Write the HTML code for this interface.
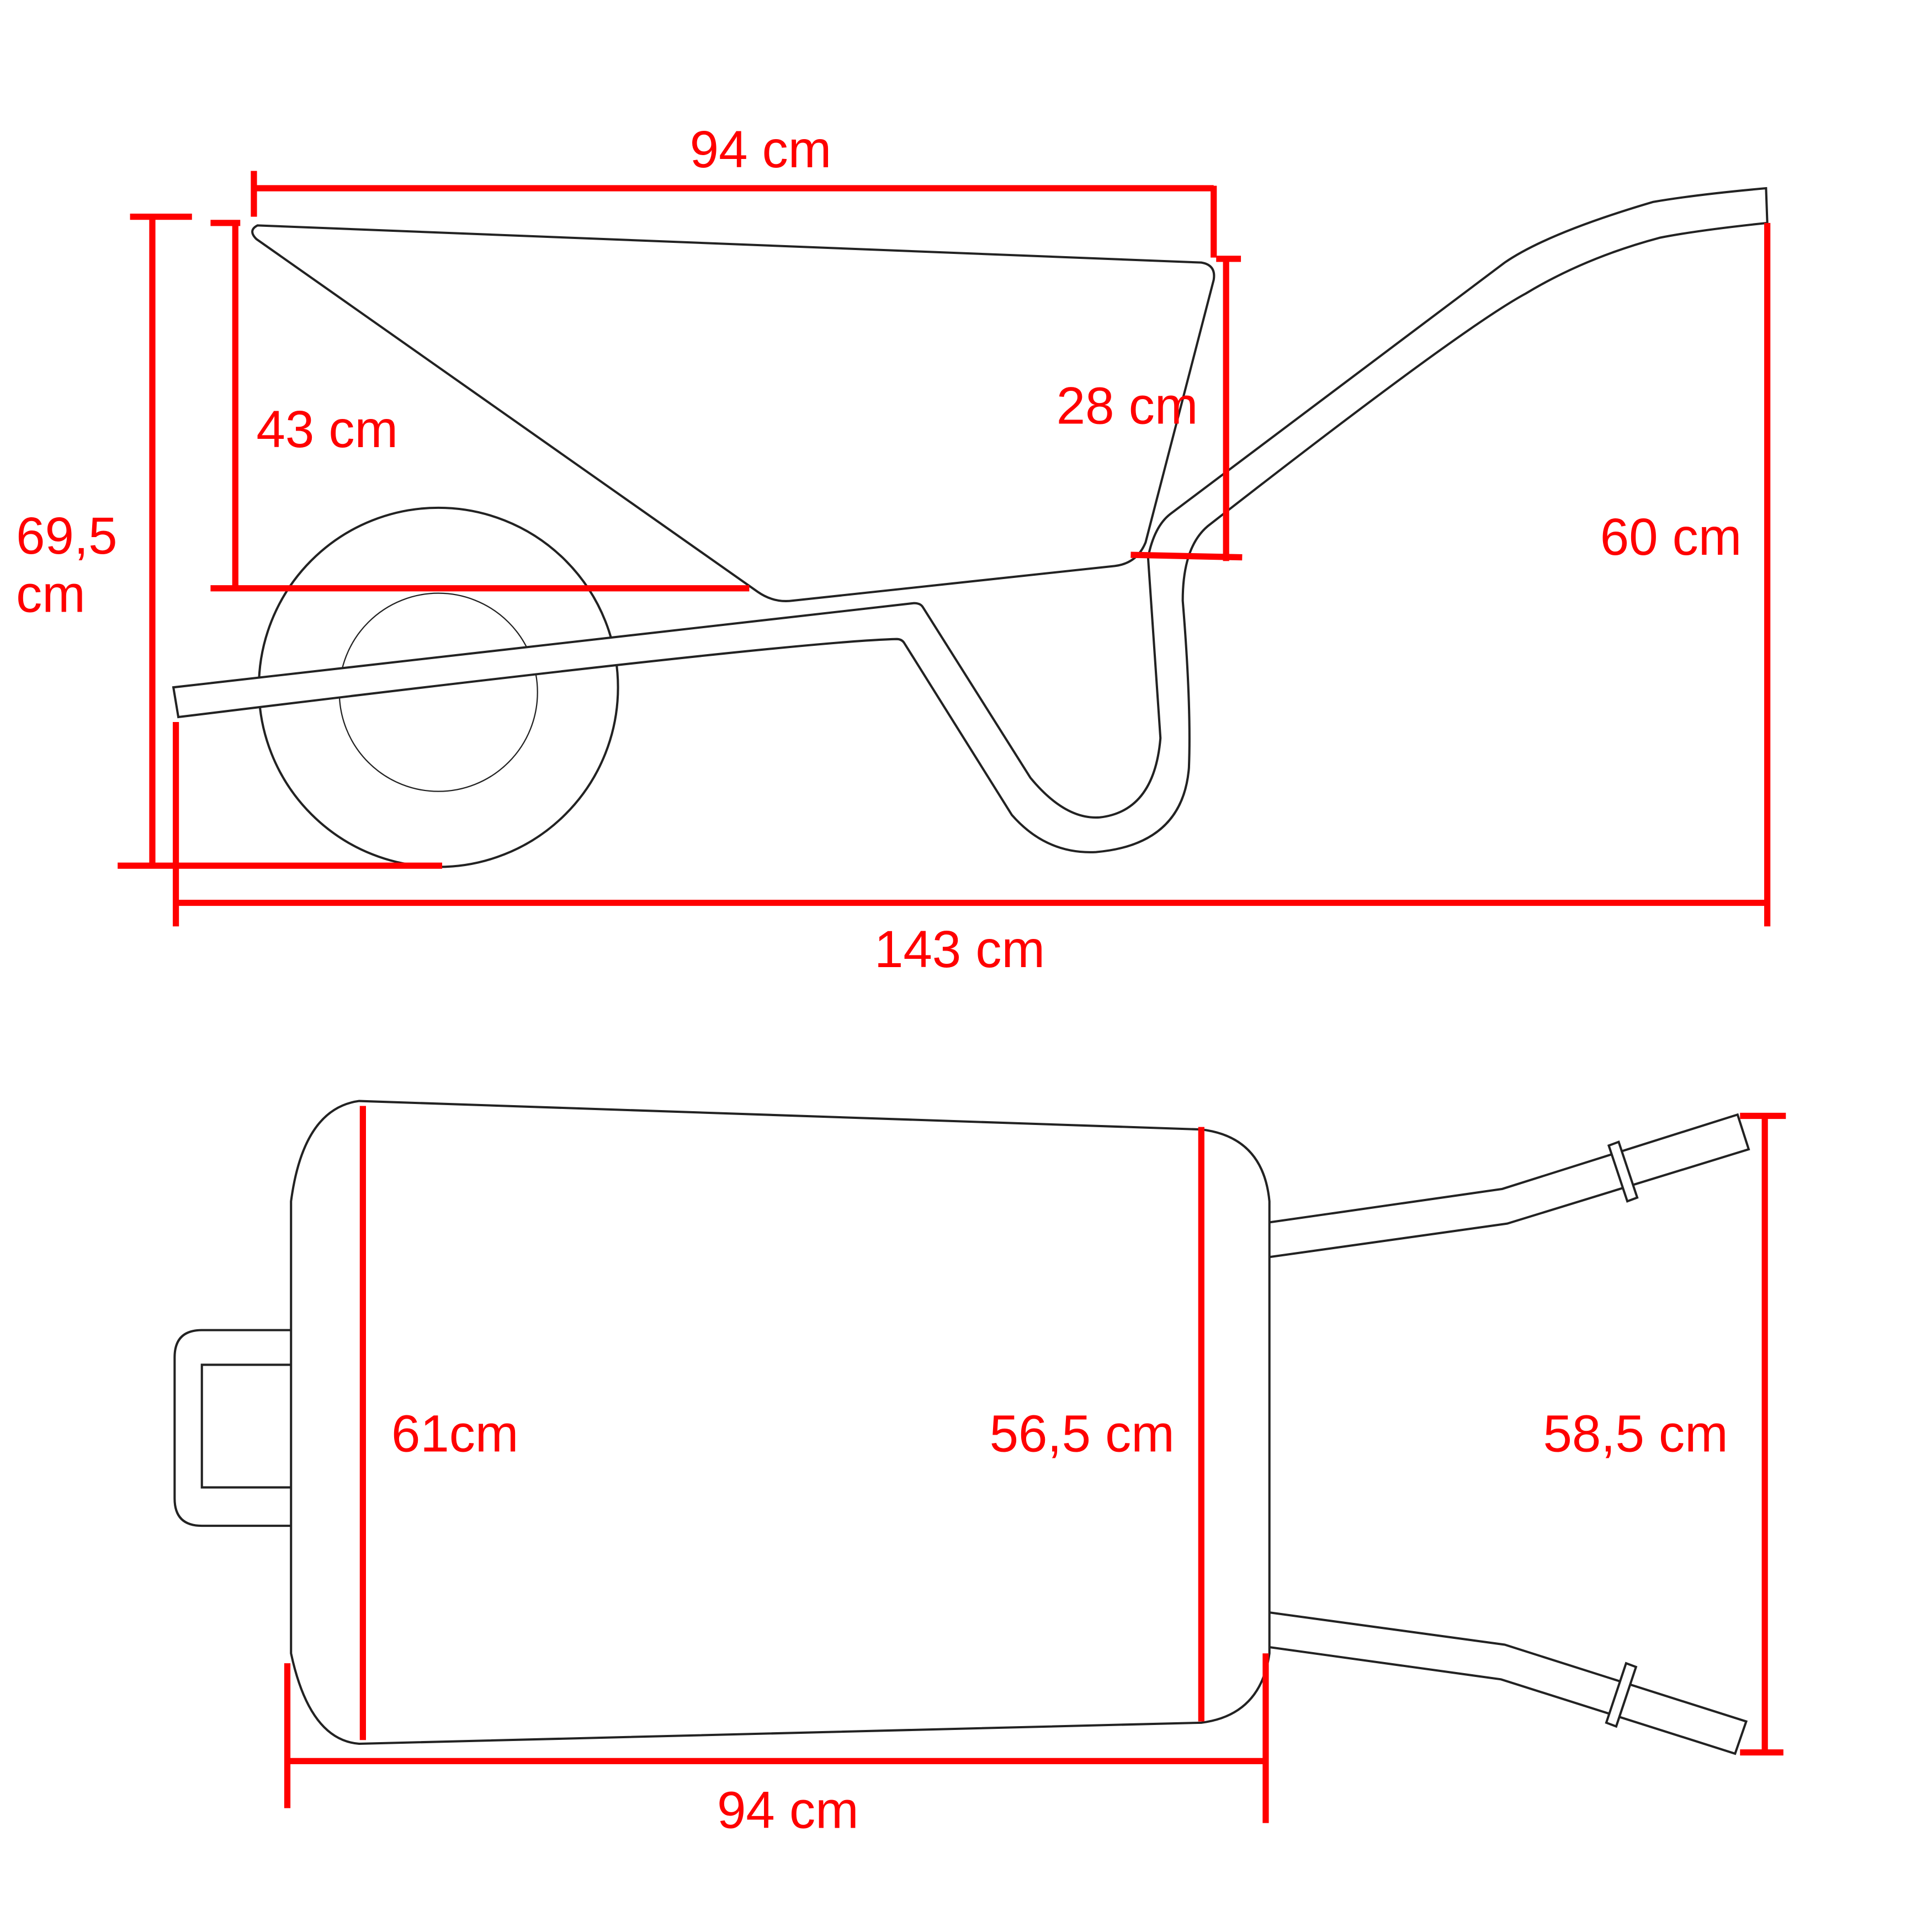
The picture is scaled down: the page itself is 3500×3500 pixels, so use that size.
<!DOCTYPE html>
<html><head><style>html,body{margin:0;padding:0;background:#fff}svg{display:block}</style></head><body>
<svg width="3500" height="3500" viewBox="0 0 1560 1560" xmlns="http://www.w3.org/2000/svg">
<rect width="1560" height="1560" fill="#fff"/>
<g fill="none" stroke="#222" stroke-width="1.8">
<circle cx="354" cy="555" r="145" fill="#fff"/>
<circle cx="354" cy="559" r="80" stroke-width="1"/>
<path fill="#fff" d="M208,182 L970,212 Q982,214 980,226 L925,438 Q918,455 900,457 L640,485 Q625,487 612,478 L207,193 Q200,186 208,182 Z"/>
<path fill="#fff" d="M140,555 L738,487 Q743,487 745,490 L832,628 Q860,662 888,660 Q932,655 937,596 L927,450 Q932,425 945,415 L1215,212 Q1250,188 1335,163 Q1370,157 1426,152 L1427,180 Q1370,186 1340,192 Q1280,208 1232,237 Q1180,265 975,425 Q955,442 955,485 Q962,570 960,620 Q955,682 885,688 Q845,690 817,658 L730,519 Q728,516 724,516 Q640,518 144,579 Z"/>
<path fill="#fff" d="M290,889 L970,912 Q1020,918 1025,970 L1025,1335 Q1018,1385 970,1391 L290,1408 Q250,1405 235,1335 L235,970 Q245,895 290,889 Z"/>
<path d="M235,1074 L163,1074 Q141,1074 141,1096 L141,1210 Q141,1232 163,1232 L235,1232"/>
<path d="M235,1102 L163,1102 L163,1201 L235,1201"/>
<path d="M1025,987 L1213,960 L1403,900 L1412,928 L1217,988 L1025,1015"/>
<path fill="#fff" d="M1299,925 L1307,922 L1322,967 L1314,970 Z"/>
<path d="M1025,1302 L1215,1328 L1410,1390 L1401,1416 L1212,1356 L1025,1330"/>
<path fill="#fff" d="M1313,1343 L1321,1346 L1305,1394 L1297,1391 Z"/>
</g>
<g stroke="#f00" stroke-width="5" fill="none">
<path d="M205,152 L980,152 M205,138 L205,175 M980,150 L980,208 M982,209 L1002,209"/>
<path d="M190,180 L190,475 M170,180 L194,180 M170,475 L605,475"/>
<path d="M123,175 L123,698 M105,175 L155,175 M95,699 L357,699"/>
<path d="M990,210 L990,453 M913,448 L1003,450"/>
<path d="M1427,180 L1427,748"/>
<path d="M142,729 L1427,729 M142,583 L142,748"/>
<path d="M293,893 L293,1405 M970,910 L970,1390"/>
<path d="M1425,900 L1425,1415 M1405,901 L1442,901 M1405,1415 L1440,1415"/>
<path d="M232,1422 L1020,1422 M232,1343 L232,1460 M1022,1335 L1022,1472"/>
</g>
<g fill="#f00" font-family="Liberation Sans, sans-serif" font-size="42">
<text x="557" y="135">94 cm</text>
<text x="207" y="361">43 cm</text>
<text x="13" y="447">69,5</text>
<text x="13" y="494">cm</text>
<text x="853" y="342">28 cm</text>
<text x="1292" y="448">60 cm</text>
<text x="706" y="781">143 cm</text>
<text x="316" y="1172">61cm</text>
<text x="799" y="1172">56,5 cm</text>
<text x="1246" y="1172">58,5 cm</text>
<text x="579" y="1476">94 cm</text>
</g>
</svg>
</body></html>
